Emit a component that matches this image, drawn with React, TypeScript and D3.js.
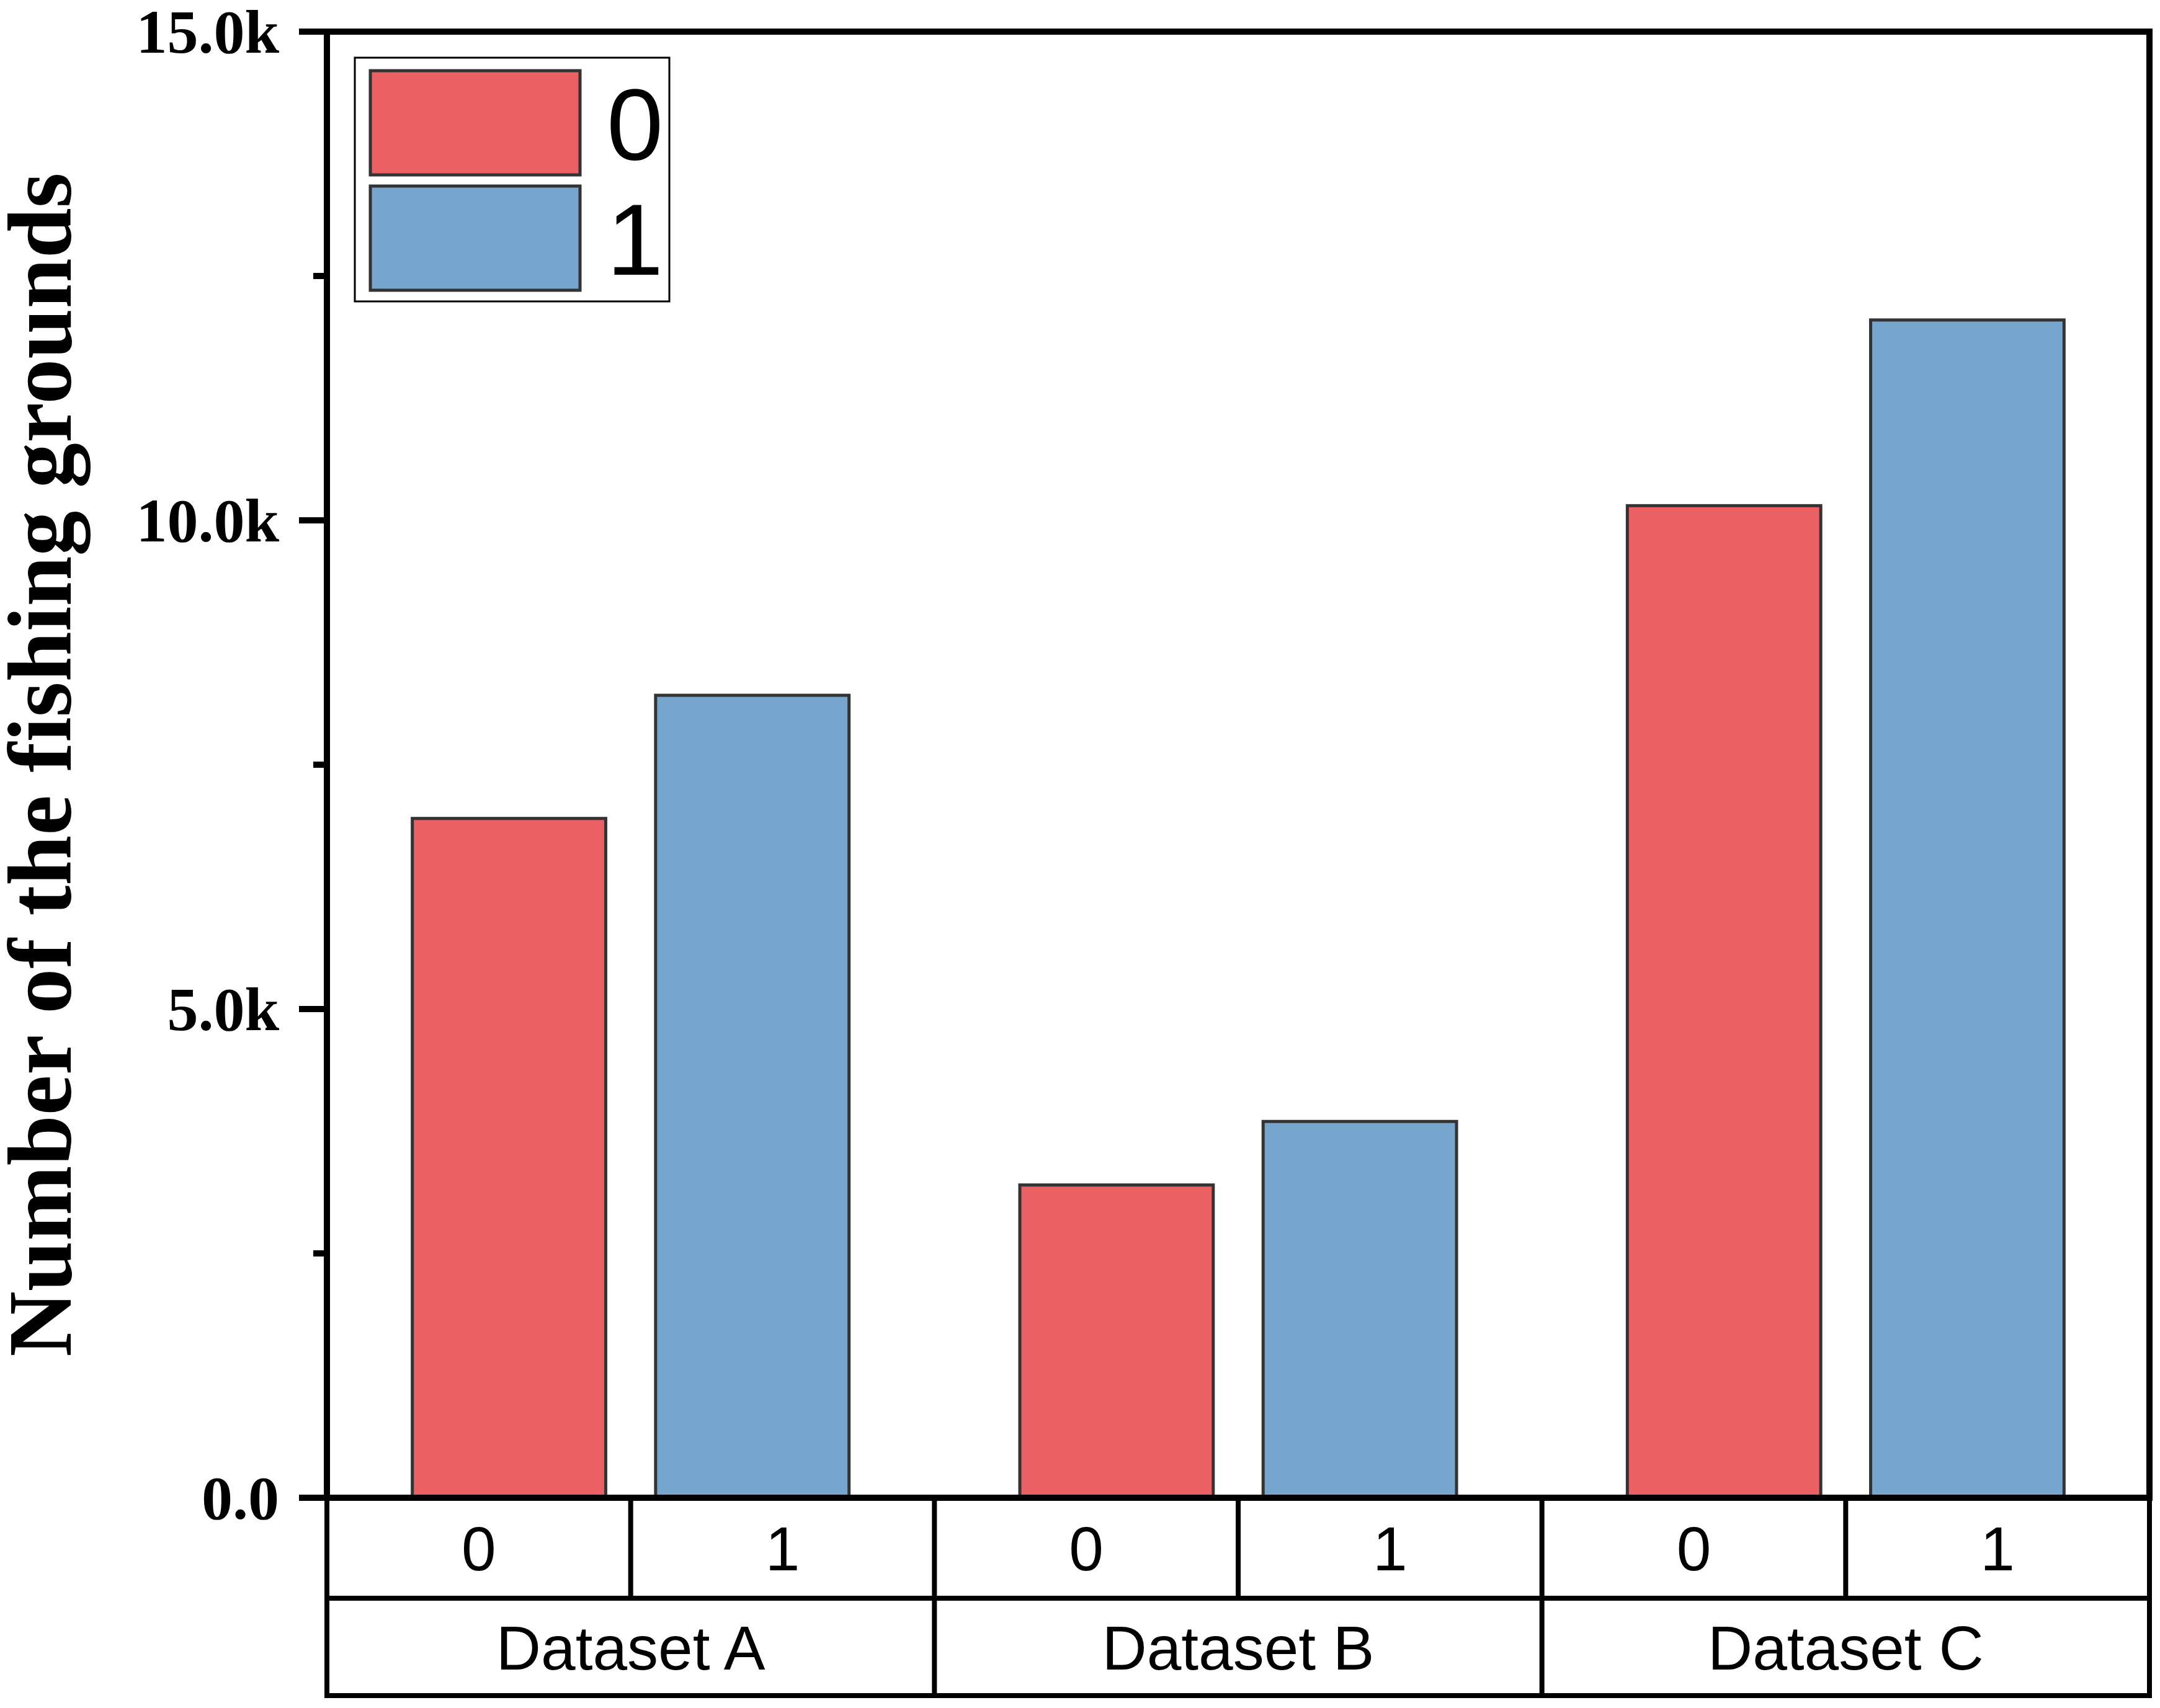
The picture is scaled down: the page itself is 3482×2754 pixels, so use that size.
import * as React from 'react';
import * as d3 from 'd3';

const datasets = ['Dataset A', 'Dataset B', 'Dataset C'];
const classes = ['0', '1'];
const class0Counts = [6950, 3200, 10150];
const class1Counts = [8210, 3850, 12050];
const majorTicks = [0, 5000, 10000, 15000];
const minorTicks = [2500, 7500, 12500];
const tickLabels = ['0.0', '5.0k', '10.0k', '15.0k'];
const yTitle = 'Number of the fishing grounds';

const colors = ['#EB6063', '#76A6CE'];

const W = 3482;
const H = 2754;
const left = 527;
const right = 3465;
const top = 51;
const bottom = 2415;
const row1 = 2577;
const row2 = 2734;

const serif = '"Liberation Serif", "Times New Roman", serif';
const sans = '"Liberation Sans", Arial, sans-serif';

const App: React.FC = () => {
	const y = d3.scaleLinear().domain([0, 15000]).range([bottom, top]);
	const x0 = d3.scaleBand<string>().domain(datasets).range([left, right]).padding(0);
	const x1 = d3
		.scaleBand<string>()
		.domain(classes)
		.range([0, x0.bandwidth()])
		.paddingInner(0.205)
		.paddingOuter(0.351);
	const half = x0.bandwidth() / 2;

	const bars = datasets.flatMap((ds, i) =>
		[class0Counts[i], class1Counts[i]].map((v, j) => ({ ds, cls: classes[j], v, j }))
	);

	return (
		<svg
			width={W}
			height={H}
			viewBox={`0 0 ${W} ${H}`}
			style={{ position: 'absolute', left: 0, top: 0, background: '#fff' }}
		>
			<rect x={0} y={0} width={W} height={H} fill='#fff' />

			{/* bars */}
			{bars.map((b, i) => (
				<rect
					key={i}
					x={x0(b.ds)! + x1(b.cls)!}
					y={y(b.v)}
					width={x1.bandwidth()}
					height={y(0) - y(b.v)}
					fill={colors[b.j]}
					stroke='#333'
					strokeWidth={5}
				/>
			))}

			{/* frame */}
			<rect x={left} y={top} width={right - left} height={bottom - top} fill='none' stroke='#000' strokeWidth={10} />

			{/* y ticks */}
			{majorTicks.map((t, i) => (
				<g key={t}>
					<line x1={left - 45} x2={left} y1={y(t)} y2={y(t)} stroke='#000' strokeWidth={10} />
					<text
						x={450}
						y={y(t) + 34}
						textAnchor='end'
						fontFamily={serif}
						fontWeight='bold'
						fontSize={100}
					>
						{tickLabels[i]}
					</text>
				</g>
			))}
			{minorTicks.map(t => (
				<line key={t} x1={left - 22} x2={left} y1={y(t)} y2={y(t)} stroke='#000' strokeWidth={10} />
			))}

			{/* y title */}
			<text
				transform={`translate(114 ${(278 + 2188) / 2}) rotate(-90)`}
				textAnchor='middle'
				fontFamily={serif}
				fontWeight='bold'
				fontSize={146}
			>
				{yTitle}
			</text>

			{/* category table */}
			<g stroke='#000' strokeWidth={8}>
				<line x1={left} x2={right} y1={row1} y2={row1} />
				<line x1={left - 4} x2={right + 4} y1={row2} y2={row2} />
				<line x1={left} x2={left} y1={bottom} y2={row2} />
				{datasets.map(ds => (
					<g key={ds}>
						<line x1={x0(ds)! + half} x2={x0(ds)! + half} y1={bottom} y2={row1} />
						<line x1={x0(ds)! + x0.bandwidth()} x2={x0(ds)! + x0.bandwidth()} y1={bottom} y2={row2} />
					</g>
				))}
			</g>
			{datasets.map(ds => (
				<g key={ds} fontFamily={sans} fontSize={100} textAnchor='middle'>
					{classes.map((c, j) => (
						<text key={c} x={x0(ds)! + half * j + half / 2} y={(bottom + row1) / 2 + 36}>
							{c}
						</text>
					))}
					<text x={x0(ds)! + half} y={(row1 + row2) / 2 + 36}>
						{ds}
					</text>
				</g>
			))}

			{/* legend */}
			<g>
				<rect x={572} y={93} width={507} height={393} fill='#fff' stroke='#000' strokeWidth={3} />
				{classes.map((c, j) => (
					<g key={c}>
						<rect
							x={597}
							y={114 + j * 186}
							width={338}
							height={168}
							fill={colors[j]}
							stroke='#333'
							strokeWidth={5}
						/>
						<text x={978} y={114 + j * 186 + 84 + 59} fontFamily={sans} fontSize={164}>
							{c}
						</text>
					</g>
				))}
			</g>
		</svg>
	);
};

export default App;
